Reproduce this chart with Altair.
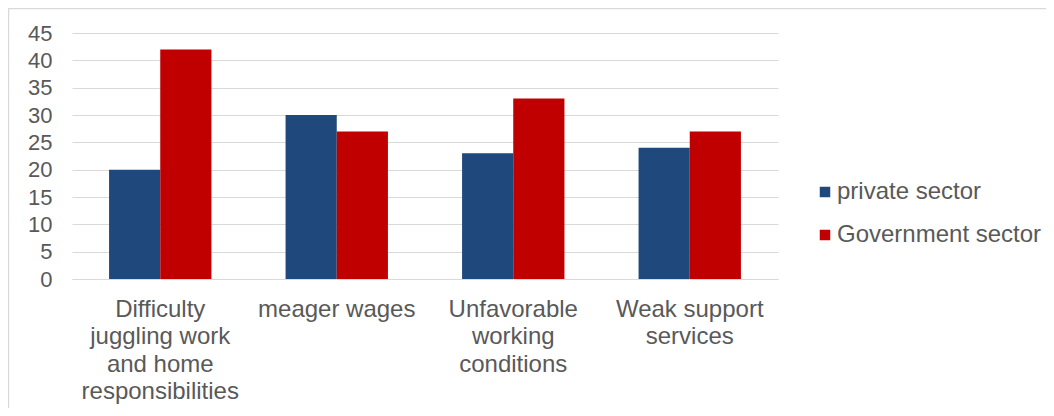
import altair as alt
import pandas as pd

categories = [
    "Difficulty\njuggling work\nand home\nresponsibilities",
    "meager wages",
    "Unfavorable\nworking\nconditions",
    "Weak support\nservices",
]
series = ["private sector", "Government sector"]
private_vals = [20, 30, 23, 24]
gov_vals = [42, 27, 33, 27]
colors = ["#1F497D", "#C00000"]
y_ticks = [0, 5, 10, 15, 20, 25, 30, 35, 40, 45]

rows = []
for c, p, g in zip(categories, private_vals, gov_vals):
    rows.append({"cat": c, "sector": series[0], "value": p})
    rows.append({"cat": c, "sector": series[1], "value": g})
df = pd.DataFrame(rows)

FONT = "Liberation Sans"
TXT = "#595959"

bars = alt.Chart(df).mark_bar().encode(
    x=alt.X(
        "cat:N",
        sort=categories,
        scale=alt.Scale(paddingInner=0.42, paddingOuter=0.21),
        axis=alt.Axis(
            title=None,
            labelAngle=0,
            labelExpr="split(datum.label, '\\n')",
            labelFont=FONT,
            labelFontSize=24,
            labelColor=TXT,
            labelPadding=18,
            labelLineHeight=27.5,
            labelLimit=400,
            ticks=False,
            domain=True,
            domainColor="#D9D9D9",
            grid=False,
        ),
    ),
    xOffset=alt.XOffset("sector:N", sort=series, scale=alt.Scale(paddingInner=0, paddingOuter=0)),
    y=alt.Y(
        "value:Q",
        scale=alt.Scale(domain=[0, 45], nice=False),
        axis=alt.Axis(
            title=None,
            values=y_ticks,
            labelFont=FONT,
            labelFontSize=22,
            labelColor=TXT,
            labelPadding=20,
            ticks=False,
            domain=False,
            grid=True,
            gridColor="#D9D9D9",
        ),
    ),
    color=alt.Color(
        "sector:N",
        sort=series,
        scale=alt.Scale(domain=series, range=colors),
        legend=alt.Legend(
            title=None,
            orient="none",
            legendX=741,
            legendY=147,
            padding=0,
            symbolType="square",
            symbolSize=110,
            symbolStrokeWidth=0,
            labelFont=FONT,
            labelFontSize=24,
            labelColor=TXT,
            labelOffset=0,
            labelLimit=400,
            rowPadding=19,
        ),
    ),
)

border = alt.Chart(pd.DataFrame({"a": [0]})).mark_rect(
    fill="transparent", stroke="#D9D9D9", strokeWidth=1.5
).encode(
    x=alt.value(-63.5), x2=alt.value(1100), y=alt.value(-24.5), y2=alt.value(600)
)

chart = alt.layer(border, bars).properties(
    width=706,
    height=246,
    autosize=alt.AutoSizeParams(type="none"),
    padding={"left": 64, "top": 25, "right": 268, "bottom": 129},
).configure_view(strokeWidth=0)

chart.save("out.html", embed_options={"renderer": "svg", "actions": False})
